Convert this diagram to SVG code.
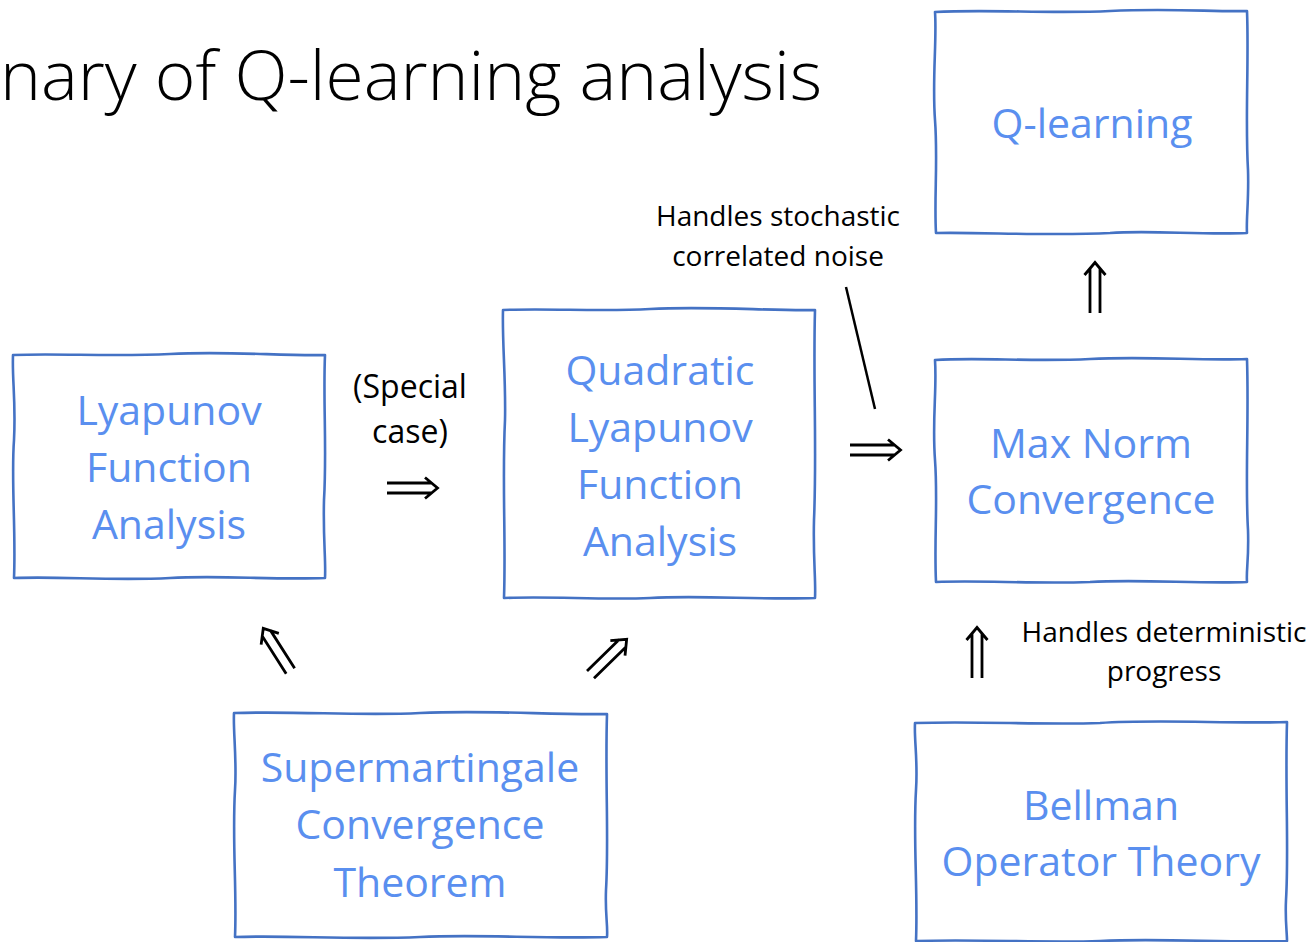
<svg xmlns="http://www.w3.org/2000/svg" width="1311" height="942" viewBox="0 0 1311 942">
<style>
.box{fill:none;stroke:#4472C4;stroke-width:2.6;stroke-linejoin:round;stroke-linecap:round}
.nt{font-family:"Open Sans","Noto Sans",sans-serif;font-size:41px;fill:#5A8FEF;text-anchor:middle}
.lb{font-family:"Open Sans","Noto Sans",sans-serif;font-size:28px;fill:#000;text-anchor:middle}
.lb2{font-family:"Open Sans","Noto Sans",sans-serif;font-size:32px;fill:#000;text-anchor:middle}
.title{font-family:"Open Sans","Noto Sans",sans-serif;font-weight:300;font-size:68px;fill:#000}
.arr{fill:none;stroke:#000;stroke-width:2.8;stroke-linecap:butt;stroke-linejoin:miter}
</style>
<defs>
<path id="dbl" class="arr" d="M-5,6 V51 M5,6 V51 M-10.5,13 L0,0.5 L10.5,13"/>
</defs>
<rect width="1311" height="942" fill="#fff"/>
<text class="title" x="0" y="100" textLength="822" lengthAdjust="spacingAndGlyphs">nary of Q-learning analysis</text>

<g id="node-qlearning">
<path class="box" d="M935,12 C990,9 1050,14 1110,11 C1170,8 1215,12 1247,11 C1249,60 1245,120 1248,170 C1249,200 1246,220 1247,233 C1200,235 1150,230 1110,233 C1050,236 980,232 936,233 C934,200 938,160 935,120 C932,80 937,40 935,12 Z"/>
<text class="nt" x="1092" y="138">Q-learning</text>
</g>

<g id="node-maxnorm">
<path class="box" d="M935,360 C980,357 1030,362 1090,359 C1150,356 1200,361 1247,359 C1249,420 1245,480 1248,530 C1249,560 1246,570 1247,582 C1200,584 1140,579 1090,582 C1030,584 980,580 936,582 C934,540 938,500 935,460 C932,420 937,390 935,360 Z"/>
<text class="nt" x="1091" y="458">Max Norm</text>
<text class="nt" x="1091" y="514">Convergence</text>
</g>

<g id="node-quadratic">
<path class="box" d="M503,310 C550,308 600,312 650,309 C710,306 770,311 815,310 C813,380 817,450 814,520 C813,560 816,580 815,598 C760,600 700,595 650,598 C600,600 550,596 504,598 C506,540 502,480 505,420 C506,380 502,340 503,310 Z"/>
<text class="nt" x="660" y="385">Quadratic</text>
<text class="nt" x="660" y="442">Lyapunov</text>
<text class="nt" x="660" y="499">Function</text>
<text class="nt" x="660" y="556">Analysis</text>
</g>

<g id="node-lyapunov">
<path class="box" d="M13,355 C60,353 110,357 170,354 C230,351 280,356 325,355 C323,400 327,450 324,500 C323,540 326,560 325,578 C270,580 220,575 170,578 C110,581 60,576 14,578 C16,530 11,480 14,440 C16,400 12,380 13,355 Z"/>
<text class="nt" x="169" y="425">Lyapunov</text>
<text class="nt" x="169" y="482">Function</text>
<text class="nt" x="169" y="539">Analysis</text>
</g>

<g id="node-supermartingale">
<path class="box" d="M234,713 C300,711 360,716 420,713 C490,710 550,715 607,714 C605,780 609,840 606,890 C605,915 608,925 607,937 C540,939 480,934 420,937 C350,940 290,935 235,937 C237,890 232,840 235,790 C237,760 233,730 234,713 Z"/>
<text class="nt" x="420" y="782">Supermartingale</text>
<text class="nt" x="420" y="839">Convergence</text>
<text class="nt" x="420" y="897">Theorem</text>
</g>

<g id="node-bellman">
<path class="box" d="M915,723 C980,721 1040,725 1100,723 C1160,719 1230,724 1287,722 C1285,790 1289,850 1286,900 C1285,920 1287,932 1287,941 C1230,943 1160,938 1100,941 C1040,943 980,939 916,941 C918,890 913,840 916,790 C918,760 914,740 915,723 Z"/>
<text class="nt" x="1101" y="820">Bellman</text>
<text class="nt" x="1101" y="876">Operator Theory</text>
</g>

<g id="connectors">
<use href="#dbl" transform="translate(438,488) rotate(90)"/>
<use href="#dbl" transform="translate(901,450) rotate(90)"/>
<use href="#dbl" transform="translate(1095,262)"/>
<use href="#dbl" transform="translate(977,627)"/>
<use href="#dbl" transform="translate(263,628) rotate(-32.5)"/>
<use href="#dbl" transform="translate(627,639) rotate(45.7)"/>
<line class="arr" x1="846" y1="287" x2="875" y2="409" style="stroke-width:2.5"/>
</g>

<g id="labels">
<text class="lb2" x="410" y="398">(Special</text>
<text class="lb2" x="410" y="443">case)</text>
<text class="lb" x="778" y="226">Handles stochastic</text>
<text class="lb" x="778" y="266">correlated noise</text>
<text class="lb" x="1164" y="642">Handles deterministic</text>
<text class="lb" x="1164" y="681">progress</text>
</g>
</svg>
